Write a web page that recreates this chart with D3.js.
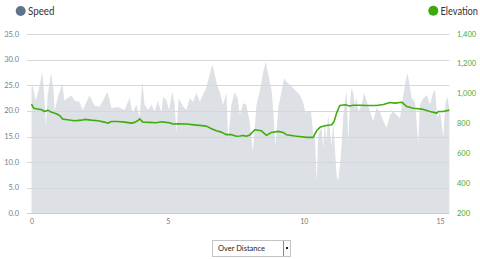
<!DOCTYPE html>
<html>
<head>
<meta charset="utf-8">
<script src="https://d3js.org/d3.v7.min.js"></script>
<style>
  body { margin: 0; background: #fff; font-family: Lato, "Open Sans", sans-serif; }
  svg { display: block; }
  .sel { position: absolute; left: 212px; top: 240px; width: 79px; height: 17px; border: 1px solid #c4c4c4;
         box-sizing: border-box; font: 7.5px Lato, sans-serif; color: #222; background: #fff; }
  .sel span { position: absolute; left: 5px; top: 3px; }
  .sel .btn { position: absolute; right: 0; top: 0; width: 6px; height: 15px; border-left: 1px solid #888;
              background: #fafafa; }
  .sel .btn:after { content: ""; position: absolute; left: 2px; top: 6px; width: 2px; height: 2px; background: #222; }
</style>
</head>
<body>
<svg id="chart" width="480" height="259"></svg>
<div class="sel"><span>Over Distance</span><div class="btn"></div></div>
<script>
// speed (km/h) over distance (km)
var speedDist = [0,0.04,0.15,0.26,0.4,0.48,0.53,0.59,0.72,0.81,0.85,0.96,1.13,1.21,1.32,1.47,1.58,1.76,1.88,2.13,2.32,2.5,2.79,2.94,3.16,3.42,3.6,3.71,3.85,3.97,4.07,4.15,4.28,4.4,4.52,4.64,4.77,4.83,4.95,5.05,5.17,5.26,5.32,5.4,5.56,5.69,5.81,5.93,6.06,6.18,6.3,6.42,6.54,6.64,6.73,6.81,6.91,7.03,7.16,7.22,7.34,7.46,7.57,7.65,7.77,7.89,8.01,8.13,8.26,8.38,8.5,8.6,8.69,8.82,8.87,8.96,9.06,9.18,9.28,9.36,9.49,9.61,9.73,9.85,9.97,10.06,10.16,10.26,10.3,10.35,10.4,10.47,10.53,10.65,10.71,10.77,10.83,10.89,10.96,11.02,11.08,11.2,11.26,11.36,11.45,11.51,11.57,11.63,11.69,11.75,11.81,11.88,11.94,12.0,12.12,12.21,12.31,12.43,12.55,12.67,12.79,12.92,13.04,13.16,13.28,13.41,13.53,13.65,13.74,13.81,13.9,13.96,14.08,14.2,14.26,14.39,14.52,14.63,14.76,14.82,14.9,15.0,15.12,15.19,15.27,15.34];
var speed = [24.5,25,22,24,27.6,22,17,23,27.4,24,20,22.5,25.3,22,22.5,23,22,21.8,20.2,23,21,20.8,23.7,20.5,20.8,20.2,22.5,19.6,21.2,18.8,25.7,21.2,20.2,21.2,19.9,22,19.6,22.7,22.2,20.2,23.8,21.2,15.7,22.5,20.9,20.2,22.5,21.8,23.5,21.8,23.2,24.5,27.1,29,27.1,25.1,23.8,21.2,23.5,14.4,21.2,23.7,22.4,19.2,21.5,21.2,17.9,12,21.2,23.8,27.4,29.6,27.2,23.8,20.6,13.1,20.6,23.8,26.4,25.7,25.1,24.4,23.8,23.1,21.8,19.6,20,19.9,18,14.8,16,6.3,15.5,16.7,12.9,18,14,19.2,16,13.4,18,7.6,6.3,11.5,19.2,22,23.8,14,21.2,24.4,23.5,21.2,22.5,19.9,21.2,23.5,21.8,19.9,18,20.6,19.9,18,16.7,19.2,19.9,19.2,18.6,23.1,26,27.4,24.4,22.5,21.8,13.8,21.2,22.5,23.1,21.2,23.8,24,18.6,19.9,15,21.2,22.8,20.5];

// elevation (m) over distance (km)
var elevDist = [0,0.08,0.23,0.36,0.48,0.6,0.72,0.91,1.03,1.15,1.33,1.58,1.83,1.95,2.19,2.44,2.68,2.8,2.93,3.17,3.42,3.67,3.79,3.91,3.97,4.09,4.34,4.58,4.77,4.95,5.07,5.19,5.38,5.69,6.06,6.18,6.42,6.61,6.79,6.97,7.16,7.34,7.53,7.65,7.77,7.89,8.01,8.2,8.44,8.63,8.81,9.06,9.24,9.36,9.67,9.92,10.1,10.34,10.47,10.59,10.77,11.02,11.11,11.2,11.32,11.51,11.69,11.81,12.06,12.3,12.67,12.92,13.16,13.35,13.59,13.78,14.02,14.33,14.63,14.88,14.94,15.12,15.34];
var elevation = [931,904,898,895,882,891,878,867,855,831,827,820,824,829,824,820,811,804,815,815,811,804,809,822,833,811,809,807,813,809,807,798,800,798,791,789,784,767,753,744,727,727,716,718,722,716,724,760,753,722,742,749,742,727,718,713,709,709,753,776,787,793,815,871,922,927,918,924,924,922,922,929,942,938,944,915,904,898,882,871,882,882,891];

var speedTicks = [0,5,10,15,20,25,30,35];
var elevTicks = [200,400,600,800,1000,1200,1400];
var distTicks = [0,5,10,15];

var svg = d3.select("#chart");
var x = d3.scaleLinear().domain([0, 15.34]).range([31.5, 449.3]);
var yS = d3.scaleLinear().domain([0, 35]).range([213.5, 34]);
var yE = d3.scaleLinear().domain([200, 1400]).range([213.5, 34]);

// speed area
var area = d3.area()
    .x(function(d, i) { return x(speedDist[i]); })
    .y0(yS(0))
    .y1(function(d) { return yS(d); });
svg.append("path").datum(speed)
    .attr("d", area)
    .attr("fill", "#dde1e5");

// grid lines
svg.append("g").selectAll("line").data(speedTicks.slice(1)).enter().append("line")
    .attr("x1", 27).attr("x2", 449.3)
    .attr("y1", function(d) { return Math.round(yS(d)) + 0.5; })
    .attr("y2", function(d) { return Math.round(yS(d)) + 0.5; })
    .attr("stroke", "#d3d8dc").attr("stroke-width", 1);
svg.append("line")
    .attr("x1", 27).attr("x2", 449.3).attr("y1", 213.5).attr("y2", 213.5)
    .attr("stroke", "#c5d0e0").attr("stroke-width", 1);

// elevation line
var line = d3.line()
    .x(function(d, i) { return x(elevDist[i]); })
    .y(function(d) { return yE(d); });
svg.append("path").datum(elevation)
    .attr("d", line)
    .attr("fill", "none")
    .attr("stroke", "#3fad0c")
    .attr("stroke-width", 1.6)
    .attr("stroke-linejoin", "round");

// left axis labels
svg.append("g").selectAll("text").data(speedTicks).enter().append("text")
    .attr("x", 19).attr("y", function(d) { return yS(d) + 2.5; })
    .attr("text-anchor", "end")
    .attr("font-size", 7.5).attr("fill", "#6f7f8f")
    .text(function(d) { return d3.format(".1f")(d); });

// right axis labels
svg.append("g").selectAll("text").data(elevTicks).enter().append("text")
    .attr("x", 457).attr("y", function(d) { return yE(d) + 2.5; })
    .attr("font-size", 7.5).attr("fill", "#55a81a")
    .text(function(d) { return d3.format(",")(d); });

// bottom axis labels
svg.append("g").selectAll("text").data(distTicks).enter().append("text")
    .attr("x", function(d) { return x(d) + 0.5; }).attr("y", 224)
    .attr("text-anchor", "middle")
    .attr("font-size", 7).attr("fill", "#777")
    .text(function(d) { return d; });

// legend
svg.append("circle").attr("cx", 20.7).attr("cy", 11).attr("r", 5).attr("fill", "#5f7488");
svg.append("text").attr("x", 28).attr("y", 15).attr("font-size", 11.5).attr("fill", "#333")
    .attr("textLength", 26.5).attr("lengthAdjust", "spacingAndGlyphs").text("Speed");
svg.append("circle").attr("cx", 433.3).attr("cy", 10.7).attr("r", 5).attr("fill", "#3caa0a");
svg.append("text").attr("x", 440.5).attr("y", 15).attr("font-size", 11.5).attr("fill", "#333")
    .attr("textLength", 37.5).attr("lengthAdjust", "spacingAndGlyphs").text("Elevation");
</script>
</body>
</html>
